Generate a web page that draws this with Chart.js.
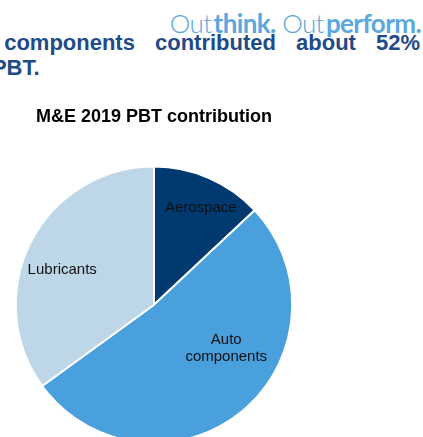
<!DOCTYPE html>
<html>
<head>
<meta charset="utf-8">
<script src="https://cdn.jsdelivr.net/npm/chart.js@4/dist/chart.umd.min.js"></script>
<style>
    html, body { margin: 0; padding: 0; width: 423px; height: 437px; overflow: hidden; background: #fff; }
    body { position: relative; font-family: "Liberation Sans", Arial, sans-serif; }
    .tagline { position: absolute; right: 2px; top: 8px; font-family: Lato, "Open Sans", sans-serif; font-weight: 300; font-size: 26px; line-height: 30px; color: #5ba7de; white-space: nowrap; letter-spacing: -0.6px; }
    .tagline b { font-weight: 700; margin-left: 2px; }
    .headline { position: absolute; font-weight: bold; font-size: 22px; line-height: 25px; color: #1f4b87; white-space: nowrap; }
    .line1 { left: -66px; right: 3px; top: 30px; text-align: justify; text-align-last: justify; white-space: normal; }
    .line2 { left: -35px; top: 55px; }
    #chartBox { position: absolute; left: 0; top: 0; width: 423px; height: 444px; }
</style>
</head>
<body>
<div class="tagline">Out<b>think.</b> Out<b>perform.</b></div>
<div class="headline line1">Auto components contributed about 52%</div>
<div class="headline line2">of PBT.</div>
<div id="chartBox"><canvas id="pbtChart" width="423" height="444"></canvas></div>
<script>
const chartTitle = 'M&E 2019 PBT contribution';
const segments = ['Aerospace', 'Auto components', 'Lubricants'];
const segmentLines = [['Aerospace'], ['Auto', 'components'], ['Lubricants']];
const pbtShare = [13, 52, 35];

const segmentColors = ['#003a70', '#4a9fdd', '#bed7e8'];

// where each label sits inside its slice: share of the slice angle, share of the radius
const labelSpots = [
    { along: 0.55, out: 0.78 },
    { along: 0.398, out: 0.612 },
    { along: 0.45, out: 0.71 }
];

const sliceLabels = {
    id: 'sliceLabels',
    afterDatasetsDraw(chart) {
        const ctx = chart.ctx;
        const arcs = chart.getDatasetMeta(0).data;
        ctx.save();
        ctx.font = '15px "Liberation Sans", Arial, sans-serif';
        ctx.fillStyle = '#111';
        ctx.textAlign = 'center';
        ctx.textBaseline = 'middle';
        arcs.forEach((arc, i) => {
            const p = arc.getProps(['x', 'y', 'startAngle', 'endAngle', 'outerRadius'], true);
            const spot = labelSpots[i];
            const a = p.startAngle + spot.along * (p.endAngle - p.startAngle);
            const r = p.outerRadius * spot.out;
            const cx = p.x + Math.cos(a) * r;
            const cy = p.y + Math.sin(a) * r;
            const lines = segmentLines[i];
            const lh = 17;
            lines.forEach((txt, j) => {
                ctx.fillText(txt, cx, cy + (j - (lines.length - 1) / 2) * lh);
            });
        });
        ctx.restore();
    }
};

new Chart(document.getElementById('pbtChart'), {
    type: 'pie',
    data: {
        labels: segments,
        datasets: [{
            data: pbtShare,
            backgroundColor: segmentColors,
            borderColor: '#ffffff',
            borderWidth: 2
        }]
    },
    options: {
        responsive: false,
        animation: false,
        layout: { padding: { top: 106, left: 14, right: 129, bottom: 0 } },
        plugins: {
            legend: { display: false },
            tooltip: { enabled: false },
            title: {
                display: true,
                text: chartTitle,
                color: '#000',
                font: { family: '"Liberation Sans", Arial, sans-serif', size: 18, weight: 'bold', lineHeight: 1.2 },
                padding: { top: 0, bottom: 38 }
            }
        }
    },
    plugins: [sliceLabels]
});
</script>
</body>
</html>
